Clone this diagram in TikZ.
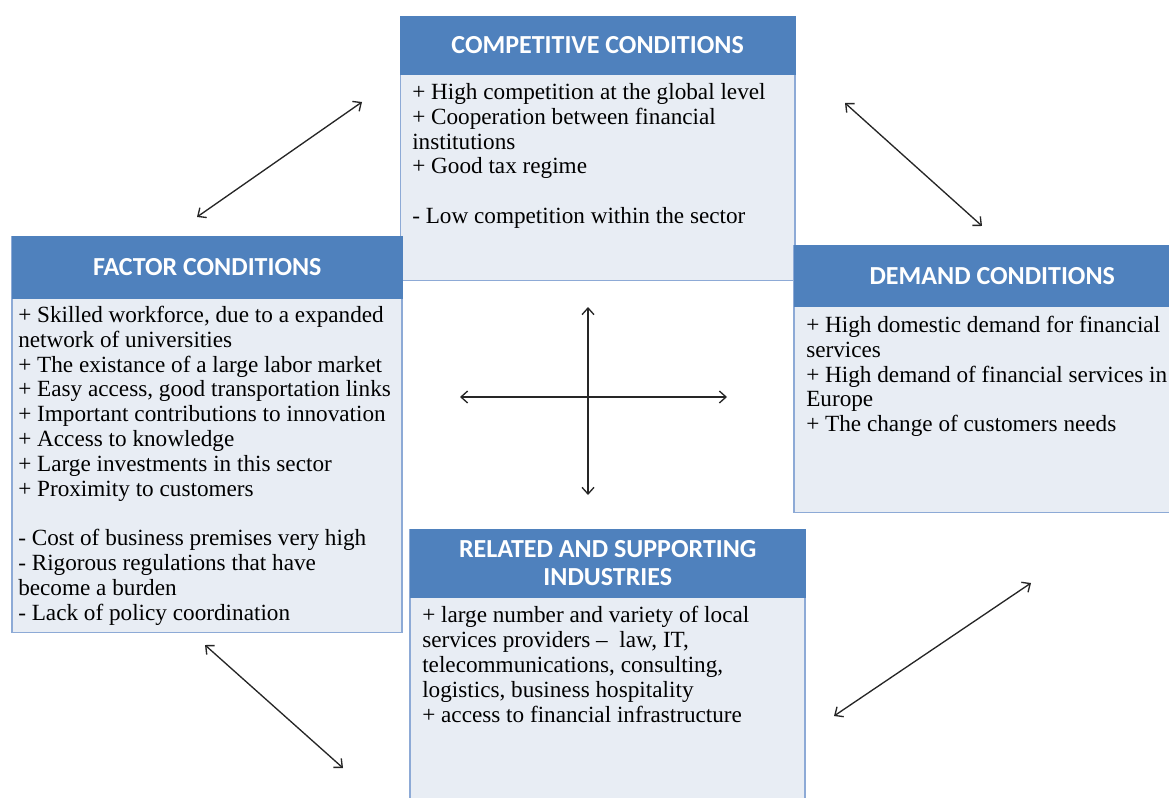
\documentclass[tikz,border=0pt]{standalone}
\usepackage{fontspec}
\setmainfont{Liberation Serif}
\newfontfamily\headfont{Carlito}
\usepackage{tikz}
\usetikzlibrary{arrows.meta,positioning}
\definecolor{HeadBlue}{HTML}{4F81BD}
\definecolor{BodyGrey}{HTML}{E8EDF4}
\definecolor{EdgeBlue}{HTML}{8DAAD6}

\begin{document}
\begin{tikzpicture}[
    x=0.75pt, y=-0.75pt,
    head/.style={fill=HeadBlue, draw=HeadBlue, text=white, anchor=north west,
                 font=\headfont\fontsize{19.5}{21}\selectfont\bfseries, align=center, inner sep=0pt},
    body/.style={fill=BodyGrey, draw=EdgeBlue, line width=1pt, anchor=north, inner sep=0pt},
    items/.style={anchor=north west, align=left, inner sep=0pt,
                  font=\fontsize{17.4}{18.6}\selectfont},
    link/.style={{Straight Barb[length=5pt,width=9pt]}-{Straight Barb[length=5pt,width=9pt]},
                 line width=1pt, black!85},
  ]
    \clip (0,0) rectangle (1169,798);

    % competitive conditions (top)
    \node[body, minimum width=296pt, minimum height=198pt] (compbox) at (597.5,16) {};
    \node[head, minimum width=296pt, minimum height=43.5pt] (comphead) at (400,16) {COMPETITIVE CONDITIONS};
    \node[items, below right=6.5pt and 9pt of comphead.south west] (comptext)
      {+ High competition at the global level\\+ Cooperation between financial\\institutions\\+ Good tax regime\\[18.6pt]- Low competition within the sector};

    % factor conditions (left)
    \node[body, minimum width=292.5pt, minimum height=297pt] (factbox) at (207,236) {};
    \node[head, minimum width=292.5pt, minimum height=46.5pt] (facthead) at (12,236) {FACTOR CONDITIONS};
    \node[items, below right=5.5pt and 4.5pt of facthead.south west] (facttext)
      {+ Skilled workforce, due to a expanded\\network of universities\\+ The existance of a large labor market\\+ Easy access, good transportation links\\+ Important contributions to innovation\\+ Access to knowledge\\+ Large investments in this sector\\+ Proximity to customers\\[18.6pt]- Cost of business premises very high\\- Rigorous regulations that have\\become a burden\\- Lack of policy coordination};

    % demand conditions (right)
    \node[body, minimum width=297pt, minimum height=200.25pt] (demdbox) at (992,245) {};
    \node[head, minimum width=297pt, minimum height=45.75pt] (demdhead) at (794,245) {DEMAND CONDITIONS};
    \node[items, below right=7pt and 9pt of demdhead.south west] (demdtext)
      {+ High domestic demand for financial\\services\\+ High demand of financial services in\\Europe\\+ The change of customers needs};

    % related and supporting industries (bottom)
    \node[body, minimum width=296.25pt, minimum height=225pt] (relbox) at (607.5,529) {};
    \node[head, minimum width=296.25pt, minimum height=51pt] (relhead) at (410,529) {RELATED AND SUPPORTING\\INDUSTRIES};
    \node[items, below right=6.5pt and 9pt of relhead.south west] (reltext)
      {+ large number and variety of local\\services providers --\ \ law, IT,\\telecommunications, consulting,\\logistics, business hospitality\\+ access to financial infrastructure};

    % links between the four conditions
    \coordinate (tl1) at (197,217);  \coordinate (tl2) at (362,102);
    \coordinate (tr1) at (845,103);  \coordinate (tr2) at (982,226);
    \coordinate (bl1) at (205,645);  \coordinate (bl2) at (343,768);
    \coordinate (br1) at (834,716);  \coordinate (br2) at (1031,583);
    \coordinate (west) at (460,397); \coordinate (east) at (727,397);
    \coordinate (north) at (588,307); \coordinate (south) at (588,495);
    \draw[link] (tl1) -- (tl2);
    \draw[link] (tr1) -- (tr2);
    \draw[link] (bl1) -- (bl2);
    \draw[link] (br1) -- (br2);
    \draw[link] (west) -- (east);
    \draw[link] (north) -- (south);
\end{tikzpicture}
\end{document}
